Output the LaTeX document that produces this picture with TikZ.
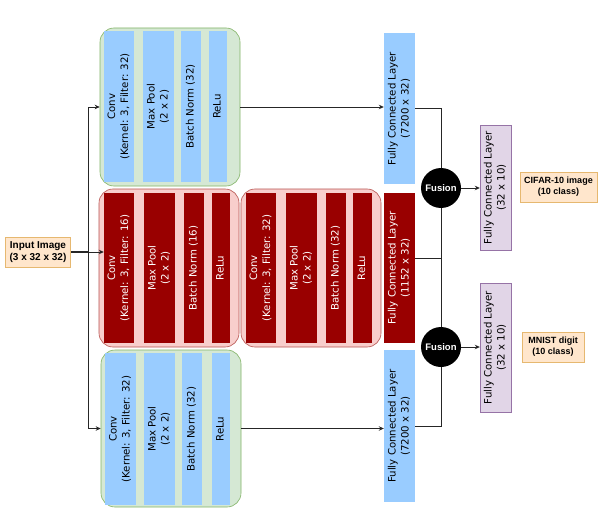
\documentclass[tikz,border=0pt]{standalone}
\usepackage{fontspec}
\setmainfont{Liberation Sans}
\newfontfamily\barfont{DejaVu Sans}
\usetikzlibrary{arrows.meta,calc}

\definecolor{barblue}{HTML}{99CCFF}
\definecolor{grpgreen}{HTML}{D5E8D4}
\definecolor{grpgreenline}{HTML}{82B366}
\definecolor{grpred}{HTML}{F8CECC}
\definecolor{grpredline}{HTML}{B85450}
\definecolor{barred}{HTML}{990000}
\definecolor{fcpurple}{HTML}{E1D5E7}
\definecolor{fcpurpleline}{HTML}{9673A6}
\definecolor{ioorange}{HTML}{FFE6CC}
\definecolor{ioorangeline}{HTML}{E6B870}

% vertical (bottom-to-top) multi-line label
\newcommand\vlab[1]{\rotatebox{90}{\begin{tabular}{@{}c@{}}#1\end{tabular}}}

\tikzset{
  grp/.style={rectangle, rounded corners=14pt, minimum width=140pt,
    minimum height=158pt, inner sep=0pt, line width=0.6pt},
  greengrp/.style={grp, fill=grpgreen, draw=grpgreenline},
  redgrp/.style={grp, fill=grpred, draw=grpredline},
  bar/.style={rectangle, inner sep=0pt, font=\barfont\fontsize{10.2}{13}\selectfont},
  bluebar/.style={bar, fill=barblue},
  redbar/.style={bar, fill=barred, text=white},
  purplebar/.style={bar, fill=fcpurple, draw=fcpurpleline, line width=0.4pt},
  iobox/.style={rectangle, fill=ioorange, draw=ioorangeline, line width=0.5pt,
    font=\bfseries\fontsize{9}{11}\selectfont, align=center, inner sep=0pt},
  fusion/.style={circle, fill=black, minimum size=40pt, inner sep=0pt,
    text=white, font=\bfseries\fontsize{9.5}{11}\selectfont},
  link/.style={draw=black!85, line width=0.8pt},
  arrow/.style={link, -{Stealth[length=5pt,width=4.5pt]}}
}

\begin{document}
\begin{tikzpicture}[x=1pt,y=-1pt]
\path[use as bounding box, fill=white] (0,0) rectangle (613,508);

% ---- input
\node[iobox, minimum width=65pt, minimum height=30pt,
  font=\bfseries\fontsize{10}{12}\selectfont] (in) at (38,252)
  {Input Image\\(3 x 32 x 32)};

% ---- upper branch (green)
\node[greengrp] (tg) at (170,107) {};
\node[bluebar, minimum width=30pt, minimum height=151pt] (tconv) at (119,106.5)
  {\vlab{Conv\\(Kernel: 3, Filter: 32)}};
\node[bluebar, minimum width=31pt, minimum height=151pt] (tpool) at (158.5,106.5)
  {\vlab{Max Pool\\(2 x 2)}};
\node[bluebar, minimum width=20pt, minimum height=151pt] (tbn) at (191,106.5)
  {\vlab{Batch Norm (32)}};
\node[bluebar, minimum width=18pt, minimum height=151pt] (trelu) at (218,106.5)
  {\vlab{ReLu}};

% ---- shared branch (red), first block
\node[redgrp] (rg1) at (169,268) {};
\node[redbar, minimum width=30pt, minimum height=150pt] (r1conv) at (119,268)
  {\vlab{Conv\\(Kernel: 3, Filter: 16)}};
\node[redbar, minimum width=31pt, minimum height=150pt] (r1pool) at (159.5,268)
  {\vlab{Max Pool\\(2 x 2)}};
\node[redbar, minimum width=20pt, minimum height=150pt] (r1bn) at (194,268)
  {\vlab{Batch Norm (16)}};
\node[redbar, minimum width=18pt, minimum height=150pt] (r1relu) at (221,268)
  {\vlab{ReLu}};

% ---- shared branch (red), second block
\node[redgrp] (rg2) at (311,268) {};
\node[redbar, minimum width=30pt, minimum height=150pt] (r2conv) at (261,268)
  {\vlab{Conv\\(Kernel: 3, Filter: 32)}};
\node[redbar, minimum width=31pt, minimum height=150pt] (r2pool) at (301.5,268)
  {\vlab{Max Pool\\(2 x 2)}};
\node[redbar, minimum width=20pt, minimum height=150pt] (r2bn) at (336,268)
  {\vlab{Batch Norm (32)}};
\node[redbar, minimum width=19pt, minimum height=150pt] (r2relu) at (362.5,268)
  {\vlab{ReLu}};

% ---- lower branch (green)
\node[greengrp, minimum height=157pt] (bg) at (171,428.5) {};
\node[bluebar, minimum width=31pt, minimum height=152pt] (bconv) at (120.5,429)
  {\vlab{Conv\\(Kernel: 3, Filter: 32)}};
\node[bluebar, minimum width=31pt, minimum height=152pt] (bpool) at (159.5,429)
  {\vlab{Max Pool\\(2 x 2)}};
\node[bluebar, minimum width=20pt, minimum height=152pt] (bbn) at (192,429)
  {\vlab{Batch Norm (32)}};
\node[bluebar, minimum width=18pt, minimum height=152pt] (brelu) at (221,429)
  {\vlab{ReLu}};

% ---- fully connected layers
\node[bluebar, minimum width=31pt, minimum height=151pt] (tfc) at (399.5,108.5)
  {\vlab{Fully Connected Layer\\(7200 x 32)}};
\node[redbar, minimum width=31pt, minimum height=150pt] (mfc) at (399.5,268)
  {\vlab{Fully Connected Layer\\(1152 x 32)}};
\node[bluebar, minimum width=31pt, minimum height=152pt] (bfc) at (399.5,426)
  {\vlab{Fully Connected Layer\\(7200 x 32)}};

% ---- fusion and heads
\node[fusion] (fu1) at (441,188) {Fusion};
\node[fusion] (fu2) at (441,347) {Fusion};
\node[purplebar, minimum width=31pt, minimum height=125pt] (pu1) at (495.5,187.5)
  {\vlab{Fully Connected Layer\\(32 x 10)}};
\node[purplebar, minimum width=31pt, minimum height=129pt] (pu2) at (495.5,347.5)
  {\vlab{Fully Connected Layer\\(32 x 10)}};
\node[iobox, minimum width=77pt, minimum height=30pt] (cifar) at (558.5,187)
  {CIFAR-10 image\\(10 class)};
\node[iobox, minimum width=62pt, minimum height=30pt] (mnist) at (553,347)
  {MNIST digit\\(10 class)};

% ---- connectors
\coordinate (split) at (88,252);
\draw[link, line width=1.6pt] (in.east) -- (split);
\draw[arrow] (split) |- (tg.west);
\draw[arrow] (split) -- (split -| r1conv.west);
\draw[arrow] (split) |- (bg.west);

\draw[arrow] (tg.east) -- (tg.east -| tfc.west);
\draw[arrow] (bg.east) -- (bg.east -| bfc.west);

\coordinate (mid) at ($(mfc.east)+(0,-10)$);
\draw[link] (tfc.east) -| (fu1.north);
\draw[link] (mid) -| (fu1.south);
\draw[link] (mid -| fu1.south) -- (fu2.north);
\draw[link] (bfc.east) -| (fu2.south);

\draw[arrow] (fu1.east) -- (fu1.east -| pu1.west);
\draw[arrow] (fu2.east) -- (fu2.east -| pu2.west);
\end{tikzpicture}
\end{document}
